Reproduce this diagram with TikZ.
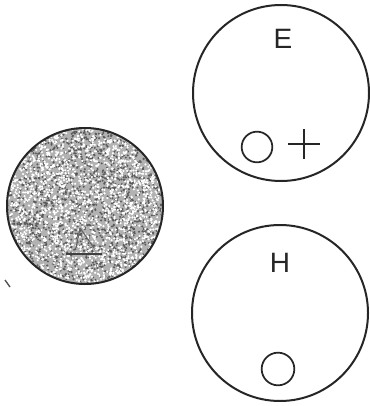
\documentclass[tikz,border=0pt]{standalone}
\usepackage{fontspec}
\setmainfont{Liberation Sans}
\usetikzlibrary{calc}
\begin{document}
\begin{tikzpicture}[x=0.75pt,y=-0.75pt,
  disc/.style={draw=black!85,line width=1.5pt,circle,inner sep=0pt},
  lbl/.style={font=\fontsize{21}{21}\selectfont,text=black!85,inner sep=0pt},
  sym/.style={draw=black!85,line width=1.3pt}]
\useasboundingbox[fill=white] (0,0) rectangle (370,406);
% stippled disc
\coordinate (c) at (85,206);
\fill[black!30] (c) circle[radius=78];
\pgfmathsetseed{7}
\begin{scope}
\clip (c) circle[radius=78];
\foreach \i in {1,...,1600}{
  \pgfmathsetmacro\rr{78*sqrt(rnd)}
  \pgfmathsetmacro\aa{360*rnd}
  \fill[black!65] ($(c)+(\aa:\rr)$) circle[radius=1.1];
}
\foreach \i in {1,...,1700}{
  \pgfmathsetmacro\rr{78*sqrt(rnd)}
  \pgfmathsetmacro\aa{360*rnd}
  \fill[white] ($(c)+(\aa:\rr)$) circle[radius=1.2];
}
\end{scope}
\draw[black!60,line width=0.9pt] (80,228) -- (76,248) (80,228) -- (94,248);
\draw[black!75,line width=1.2pt] (66,254) -- (102,254);
\node[disc,minimum size=117pt] (L) at (c) {};
% E disc
\node[disc,minimum size=132pt] (E) at (281,93) {};
\node[lbl] (Et) at (283,39) {E};
\node[sym,circle,minimum size=23pt,inner sep=0pt] (o1) at (257,147) {};
\coordinate (p) at (304,144);
\draw[sym] ($(p)+(-16,0)$) -- ($(p)+(16,0)$) ($(p)+(0,-15)$) -- ($(p)+(0,15)$);
% H disc
\node[disc,minimum size=132pt] (H) at (280,313) {};
\node[lbl] (Ht) at (280,263) {H};
\node[sym,circle,minimum size=24.5pt,inner sep=0pt] (o2) at (278,369) {};
% speck
\draw[black!70,line width=1pt] (5,280) -- (10,287);
\end{tikzpicture}
\end{document}
